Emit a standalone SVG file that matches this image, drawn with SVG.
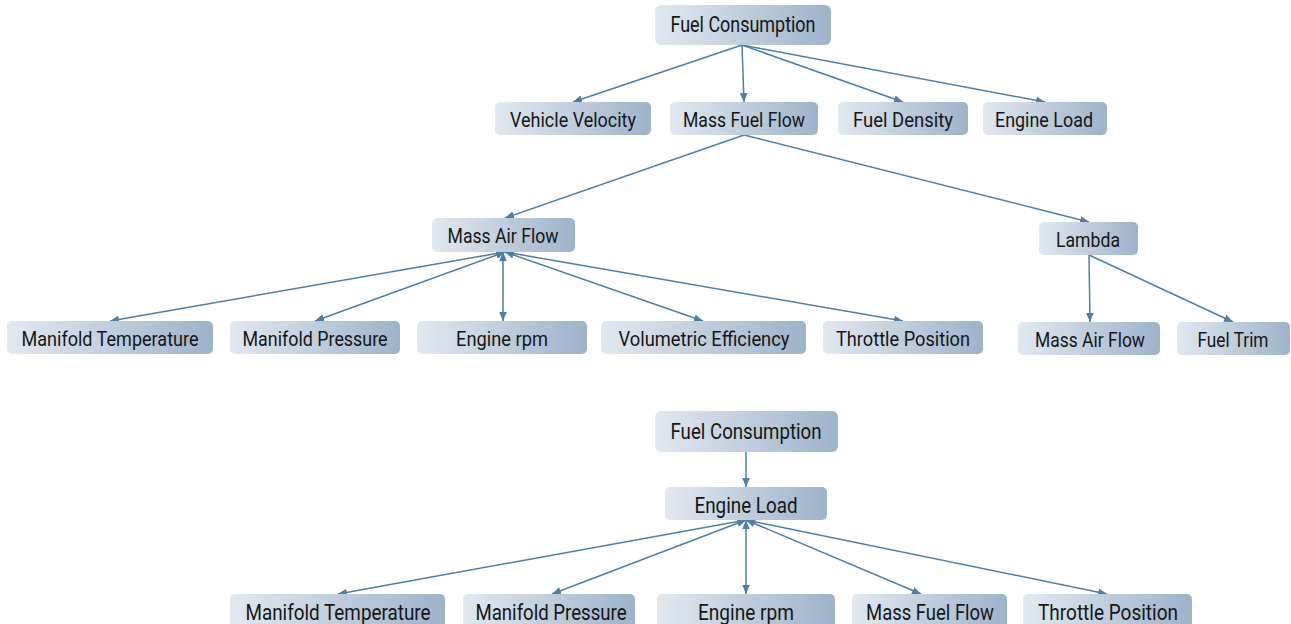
<svg xmlns="http://www.w3.org/2000/svg" width="1291" height="624" viewBox="0 0 1291 624">
  <defs>
    <linearGradient id="nodeFill" x1="0" y1="0" x2="1" y2="0">
      <stop offset="0" stop-color="#e1e8f0"/>
      <stop offset="1" stop-color="#9db3ca"/>
    </linearGradient>
    <marker id="arrow" viewBox="0 0 10 10" refX="10" refY="5" markerWidth="9" markerHeight="9" markerUnits="userSpaceOnUse" orient="auto-start-reverse">
      <path d="M0,0.8 L10,5 L0,9.2 z" fill="#4d7ea3"/>
    </marker>
    <style>
      .node rect { fill: url(#nodeFill); }
      .node text { font-family: Roboto, "Liberation Sans", sans-serif; font-size: 21px; fill: #161616; text-anchor: middle; }
      .top text { font-size: 22px; }
      .big text { font-size: 22px; }
      .edges line { stroke: #4d7ea3; stroke-width: 1.5; fill: none; marker-end: url(#arrow); }
      .edges line.both { marker-start: url(#arrow); }
    </style>
  </defs>

  <g class="edges">
    <!-- upper tree -->
    <line x1="742" y1="45" x2="573" y2="102"/>
    <line x1="742" y1="45" x2="744" y2="102"/>
    <line x1="742" y1="45" x2="903" y2="102"/>
    <line x1="742" y1="45" x2="1045" y2="102"/>
    <line x1="744" y1="135" x2="505" y2="218"/>
    <line x1="744" y1="135" x2="1089" y2="222"/>
    <line class="both" x1="505" y1="252" x2="110" y2="321"/>
    <line class="both" x1="505" y1="252" x2="315" y2="321"/>
    <line class="both" x1="503" y1="252" x2="503" y2="321"/>
    <line class="both" x1="505" y1="252" x2="703" y2="321"/>
    <line class="both" x1="505" y1="252" x2="903" y2="321"/>
    <line x1="1089" y1="255" x2="1090" y2="322"/>
    <line x1="1089" y1="255" x2="1233" y2="322"/>
    <!-- lower tree -->
    <line x1="746" y1="452" x2="746" y2="487"/>
    <line class="both" x1="746" y1="520" x2="338" y2="594"/>
    <line class="both" x1="746" y1="520" x2="552" y2="594"/>
    <line class="both" x1="746" y1="520" x2="746" y2="594"/>
    <line class="both" x1="746" y1="520" x2="921" y2="594"/>
    <line class="both" x1="746" y1="520" x2="1107" y2="594"/>
  </g>

  <!-- upper tree nodes -->
  <g id="fuel-consumption" class="node top"><rect x="655" y="5" width="176" height="40" rx="6"/><text x="743" y="32" textLength="145" lengthAdjust="spacingAndGlyphs">Fuel Consumption</text></g>
  <g id="vehicle-velocity" class="node"><rect x="495" y="102" width="156" height="33" rx="5"/><text x="573" y="127" textLength="126" lengthAdjust="spacingAndGlyphs">Vehicle Velocity</text></g>
  <g id="mass-fuel-flow" class="node"><rect x="670" y="102" width="148" height="33" rx="5"/><text x="744" y="127" textLength="122" lengthAdjust="spacingAndGlyphs">Mass Fuel Flow</text></g>
  <g id="fuel-density" class="node"><rect x="838" y="102" width="130" height="33" rx="5"/><text x="903" y="127" textLength="100" lengthAdjust="spacingAndGlyphs">Fuel Density</text></g>
  <g id="engine-load" class="node"><rect x="983" y="102" width="124" height="33" rx="5"/><text x="1044" y="127" textLength="98" lengthAdjust="spacingAndGlyphs">Engine Load</text></g>
  <g id="mass-air-flow" class="node"><rect x="432" y="218" width="143" height="34" rx="5"/><text x="503" y="243" textLength="111" lengthAdjust="spacingAndGlyphs">Mass Air Flow</text></g>
  <g id="lambda" class="node"><rect x="1039" y="222" width="99" height="33" rx="5"/><text x="1088" y="247" textLength="64" lengthAdjust="spacingAndGlyphs">Lambda</text></g>
  <g id="manifold-temperature" class="node"><rect x="7" y="321" width="206" height="33" rx="5"/><text x="110" y="346" textLength="177" lengthAdjust="spacingAndGlyphs">Manifold Temperature</text></g>
  <g id="manifold-pressure" class="node"><rect x="230" y="321" width="170" height="33" rx="5"/><text x="315" y="346" textLength="145" lengthAdjust="spacingAndGlyphs">Manifold Pressure</text></g>
  <g id="engine-rpm" class="node"><rect x="417" y="321" width="170" height="33" rx="5"/><text x="502" y="346" textLength="92" lengthAdjust="spacingAndGlyphs">Engine rpm</text></g>
  <g id="volumetric-efficiency" class="node"><rect x="601" y="321" width="205" height="33" rx="5"/><text x="704" y="346" textLength="171" lengthAdjust="spacingAndGlyphs">Volumetric Efficiency</text></g>
  <g id="throttle-position" class="node"><rect x="823" y="321" width="160" height="33" rx="5"/><text x="903" y="346" textLength="134" lengthAdjust="spacingAndGlyphs">Throttle Position</text></g>
  <g id="lambda-mass-air-flow" class="node"><rect x="1018" y="322" width="142" height="33" rx="5"/><text x="1090" y="347" textLength="110" lengthAdjust="spacingAndGlyphs">Mass Air Flow</text></g>
  <g id="fuel-trim" class="node"><rect x="1177" y="322" width="113" height="33" rx="5"/><text x="1233" y="347" textLength="71" lengthAdjust="spacingAndGlyphs">Fuel Trim</text></g>

  <!-- lower tree nodes -->
  <g id="fuel-consumption-2" class="node big"><rect x="655" y="411" width="183" height="41" rx="6"/><text x="746" y="439" textLength="151" lengthAdjust="spacingAndGlyphs">Fuel Consumption</text></g>
  <g id="engine-load-2" class="node big"><rect x="665" y="487" width="162" height="33" rx="5"/><text x="746" y="513" textLength="103" lengthAdjust="spacingAndGlyphs">Engine Load</text></g>
  <g id="manifold-temperature-2" class="node big"><rect x="230" y="594" width="215" height="40" rx="5"/><text x="338" y="620" textLength="185" lengthAdjust="spacingAndGlyphs">Manifold Temperature</text></g>
  <g id="manifold-pressure-2" class="node big"><rect x="463" y="594" width="172" height="40" rx="5"/><text x="551" y="620" textLength="151" lengthAdjust="spacingAndGlyphs">Manifold Pressure</text></g>
  <g id="engine-rpm-2" class="node big"><rect x="657" y="594" width="178" height="40" rx="5"/><text x="746" y="620" textLength="96" lengthAdjust="spacingAndGlyphs">Engine rpm</text></g>
  <g id="mass-fuel-flow-2" class="node big"><rect x="852" y="594" width="155" height="40" rx="5"/><text x="930" y="620" textLength="128" lengthAdjust="spacingAndGlyphs">Mass Fuel Flow</text></g>
  <g id="throttle-position-2" class="node big"><rect x="1023" y="594" width="169" height="40" rx="5"/><text x="1108" y="620" textLength="140" lengthAdjust="spacingAndGlyphs">Throttle Position</text></g>
</svg>
